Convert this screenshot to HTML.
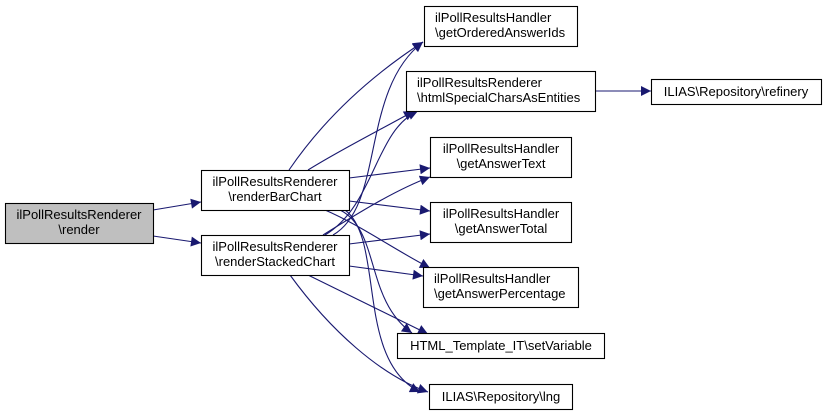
<!DOCTYPE html>
<html><head><meta charset="utf-8"><style>
html,body{margin:0;padding:0;background:#fff;width:827px;height:415px;overflow:hidden}
text{font-family:"Liberation Sans",sans-serif;font-size:13px;fill:#000}
</style></head><body>
<svg width="827" height="415" viewBox="0 0 827 415" xmlns="http://www.w3.org/2000/svg">
<defs><marker id="a" viewBox="0 0 10 10" refX="10" refY="5" markerWidth="13" markerHeight="10" markerUnits="userSpaceOnUse" orient="auto"><path d="M0,0 L10,5 L0,10 z" fill="#191970"/></marker></defs>
<g fill="none" stroke="#191970" stroke-width="1.1" marker-end="url(#a)">
<path d="M153,210 L201,202"/>
<path d="M153,236 L201,243"/>
<path d="M289,170 C330,110 380,70 423,42"/>
<path d="M308,170 C340,150 380,130 414,111"/>
<path d="M349,178 L430,168"/>
<path d="M349,201 L430,211"/>
<path d="M325,210 C360,225 395,250 430,268"/>
<path d="M340,210 C380,230 365,300 412,333"/>
<path d="M345,210 C385,240 355,360 420,392"/>
<path d="M333,235 C385,205 360,90 423,42"/>
<path d="M325,235 C375,205 375,130 418,111"/>
<path d="M323,235 C355,215 395,190 430,177"/>
<path d="M349,244 L430,234"/>
<path d="M349,266 L423,276"/>
<path d="M308,275 L428,334"/>
<path d="M290,275 C330,330 380,375 428,392"/>
<path d="M595,91 L651,91"/>
</g>
<g stroke="#000" stroke-width="1.1">
<rect x="5.5" y="203.5" width="148" height="40" fill="#bfbfbf"/>
<rect x="201.5" y="170.5" width="148" height="40" fill="#fff"/>
<rect x="201.5" y="235.5" width="148" height="40" fill="#fff"/>
<rect x="424.5" y="6.5" width="153" height="40" fill="#fff"/>
<rect x="406.5" y="71.5" width="189" height="40" fill="#fff"/>
<rect x="651.5" y="79.5" width="170" height="25" fill="#fff"/>
<rect x="430.5" y="137.5" width="141" height="40" fill="#fff"/>
<rect x="430.5" y="202.5" width="141" height="40" fill="#fff"/>
<rect x="423.5" y="267.5" width="155" height="40" fill="#fff"/>
<rect x="397.5" y="333.5" width="207" height="25" fill="#fff"/>
<rect x="429.5" y="384.5" width="143" height="25" fill="#fff"/>
</g>
<g text-anchor="middle">
<text x="79" y="219">ilPollResultsRenderer</text><text x="79" y="234">\render</text>
<text x="275" y="186">ilPollResultsRenderer</text><text x="275" y="201">\renderBarChart</text>
<text x="275" y="251">ilPollResultsRenderer</text><text x="275" y="266">\renderStackedChart</text>
<text x="736" y="96">ILIAS\Repository\refinery</text>
<text x="501" y="350">HTML_Template_IT\setVariable</text>
<text x="501" y="401">ILIAS\Repository\lng</text>
</g>
<g>
<text x="435" y="22">ilPollResultsHandler</text><text x="435" y="37">\getOrderedAnswerIds</text>
<text x="417" y="87">ilPollResultsRenderer</text><text x="417" y="102">\htmlSpecialCharsAsEntities</text>
</g>
<g text-anchor="middle">
<text x="501" y="153">ilPollResultsHandler</text><text x="501" y="168">\getAnswerText</text>
<text x="501" y="218">ilPollResultsHandler</text><text x="501" y="233">\getAnswerTotal</text>
</g>
<g>
<text x="434" y="283">ilPollResultsHandler</text><text x="434" y="298">\getAnswerPercentage</text>
</g>
</svg>
</body></html>
